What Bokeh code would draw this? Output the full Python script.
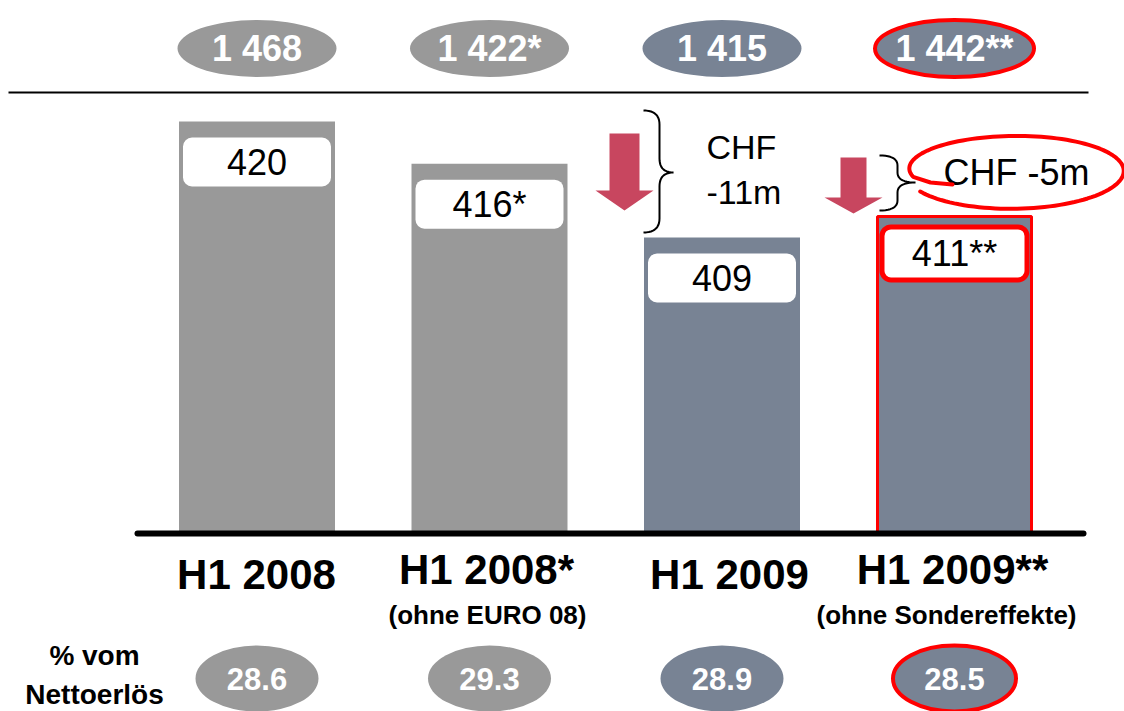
import numpy as np
from bokeh.plotting import figure
from bokeh.models import Range1d
from bokeh.core.properties import value
from bokeh.embed import file_html
from bokeh.resources import INLINE

# ---------------- data ----------------
categories = ["H1 2008", "H1 2008*", "H1 2009", "H1 2009**"]
subtitles = ["", "(ohne EURO 08)", "", "(ohne Sondereffekte)"]
ebitda = [420, 416, 409, 411]
ebitda_suffix = ["", "*", "", "**"]
revenue = [1468, 1422, 1415, 1442]
revenue_suffix = ["", "*", "", "**"]
margin_pct = [28.6, 29.3, 28.9, 28.5]
highlight = [False, False, False, True]
delta_labels = [["CHF", "-11m"], ["CHF -5m"]]
row_label = ["% vom", "Nettoerlös"]

# ---------------- layout / style ----------------
W, H = 1124, 711
BASE_PX = 533.0          # pixel row of the bar baseline
K = 10.545               # pixels per value unit
V0 = 380.93              # value at the baseline (broken axis)
X0, STEP, BAR_W = 256.5, 232.5, 156

GRAY = "#999999"
BLUE = "#788394"
RED = "#FF0000"
ARROW = "#C8465F"
FONT = value("Liberation Sans")


def yd(py):
    """pixel row -> data value (layout helper)"""
    return V0 + (BASE_PX - py) / K


xs = [X0 + i * STEP for i in range(len(categories))]
colors = [GRAY, GRAY, BLUE, BLUE]

p = figure(width=W, height=H, x_range=Range1d(0, W), y_range=Range1d(yd(H), yd(0)),
           x_axis_type=None, y_axis_type=None, toolbar_location=None,
           output_backend="svg", min_border=0, outline_line_color=None,
           background_fill_color="white", border_fill_color="white")
p.min_border_left = p.min_border_right = p.min_border_top = p.min_border_bottom = 0

# top separator line
p.segment(x0=[8], y0=[yd(92)], x1=[1088], y1=[yd(92)], line_color="black", line_width=2)

# top ovals (net revenue)
p.ellipse(x=xs, y=[yd(48)] * 4, width=[159] * 4, height=[57] * 4,
          width_units="screen", height_units="screen",
          fill_color=colors, line_color=[RED if h else None for h in highlight],
          line_width=4)
rev_txt = [f"{v // 1000} {v % 1000:03d}{s}" for v, s in zip(revenue, revenue_suffix)]
p.text(x=xs, y=[yd(48)] * 4, text=rev_txt, text_font=FONT, text_font_style="bold",
       text_font_size="36px", text_color="white", text_align="center", text_baseline="middle")

# bars
p.vbar(x=xs, width=BAR_W, top=ebitda, bottom=V0, fill_color=colors, line_color=None)
hx = [x for x, h in zip(xs, highlight) if h]
hv = [v for v, h in zip(ebitda, highlight) if h]
p.vbar(x=hx, width=BAR_W - 2, top=hv, bottom=V0, fill_color=None, line_color=RED, line_width=3)

# value boxes
for x, v, s, h in zip(xs, ebitda, ebitda_suffix, highlight):
    if h:
        t_off, b_off, half, lw, lc = 10.5, 63.5, 72.5, 5, RED
    else:
        t_off, b_off, half, lw, lc = 16, 65, 74, 1, None
    p.quad(left=[x - half], right=[x + half], top=[v - t_off / K], bottom=[v - b_off / K],
           fill_color="white", line_color=lc, line_width=lw, border_radius=9)
    p.text(x=[x], y=[v - (t_off + b_off) / 2 / K], text=[f"{v}{s}"], text_font=FONT,
           text_font_size="36px", text_color="black", text_align="center", text_baseline="middle")

# baseline
p.segment(x0=[137], y0=[V0], x1=[1083], y1=[V0], line_color="black", line_width=6,
          line_cap="round")


# arrows
def arrow(xc, yt, yh, ytip, sw, hw):
    px = [xc - sw / 2, xc + sw / 2, xc + sw / 2, xc + hw / 2, xc, xc - hw / 2, xc - sw / 2]
    py = [yt, yt, yh, yh, ytip, yh, yh]
    return px, [yd(v) for v in py]


for args in [(624, 133, 190, 210, 30, 58), (853, 157, 197, 213, 26, 58)]:
    ax, ay = arrow(*args)
    p.patch(ax, ay, fill_color=ARROW, line_color=None)


# braces
def qb(p0, p1, p2, n=12):
    t = np.linspace(0, 1, n)[:, None]
    pts = (1 - t) ** 2 * np.array(p0) + 2 * (1 - t) * t * np.array(p1) + t ** 2 * np.array(p2)
    return pts


def brace(xe, xs_, xt, yt, ym, yb, r):
    segs = [qb((xe, yt), (xs_, yt), (xs_, yt + r)),
            qb((xs_, ym - r), (xs_, ym), (xt, ym)),
            qb((xt, ym), (xs_, ym), (xs_, ym + r)),
            qb((xs_, yb - r), (xs_, yb), (xe, yb))]
    pts = np.vstack(segs)
    return list(pts[:, 0]), [yd(v) for v in pts[:, 1]]


for args in [(643, 659, 673, 110, 172, 232, 14), (879, 897, 915, 155, 182, 210, 10)]:
    bx, by = brace(*args)
    p.line(bx, by, line_color="black", line_width=2)

# delta texts
p.text(x=[706, 706], y=[yd(146), yd(191)], text=delta_labels[0], text_font=FONT,
       text_font_size="34px", text_color="black", text_align="left", text_baseline="middle")
p.text(x=[943], y=[yd(172)], text=delta_labels[1], text_font=FONT,
       text_font_size="36px", text_color="black", text_align="left", text_baseline="middle")

# hand drawn red ellipse around "CHF -5m"
t = np.radians(np.linspace(195, -150, 120))
frac = np.linspace(0, 1, t.size)
a = 106 + 4 * frac
b = 32 + 6 * frac
cy = 168 + 4 * frac
ex = list(1015 + a * np.cos(t))
ey = list(cy - b * np.sin(t))
ex = [952, 930] + ex
ey = [184, 182] + ey
p.line(ex, [yd(v) for v in ey], line_color=RED, line_width=4, line_cap="round", line_join="round")

# category labels
cat_y = [574 if not s else 569 for s in subtitles]
cat_x = [256, 486, 729, 952]
p.text(x=cat_x, y=[yd(v) for v in cat_y], text=categories, text_font=FONT, text_font_style="bold",
       text_font_size="42px", text_color="black", text_align="center", text_baseline="middle")
sub_t = [s for s in subtitles if s]
p.text(x=[487, 946], y=[yd(614)] * 2, text=sub_t, text_font=FONT, text_font_style="bold",
       text_font_size="26px", text_color="black", text_align="center", text_baseline="middle")

# bottom row: margin in % of net revenue
p.text(x=[94, 94], y=[yd(655), yd(694)], text=row_label, text_font=FONT, text_font_style="bold",
       text_font_size="28px", text_color="black", text_align="center", text_baseline="middle")
p.ellipse(x=xs, y=[yd(678)] * 4, width=[123] * 4, height=[66] * 4,
          width_units="screen", height_units="screen",
          fill_color=colors, line_color=[RED if h else None for h in highlight], line_width=4)
p.text(x=xs, y=[yd(678)] * 4, text=[f"{m:.1f}" for m in margin_pct], text_font=FONT,
       text_font_style="bold", text_font_size="31px", text_color="white",
       text_align="center", text_baseline="middle")

open("out.html", "w").write(file_html(p, INLINE))
